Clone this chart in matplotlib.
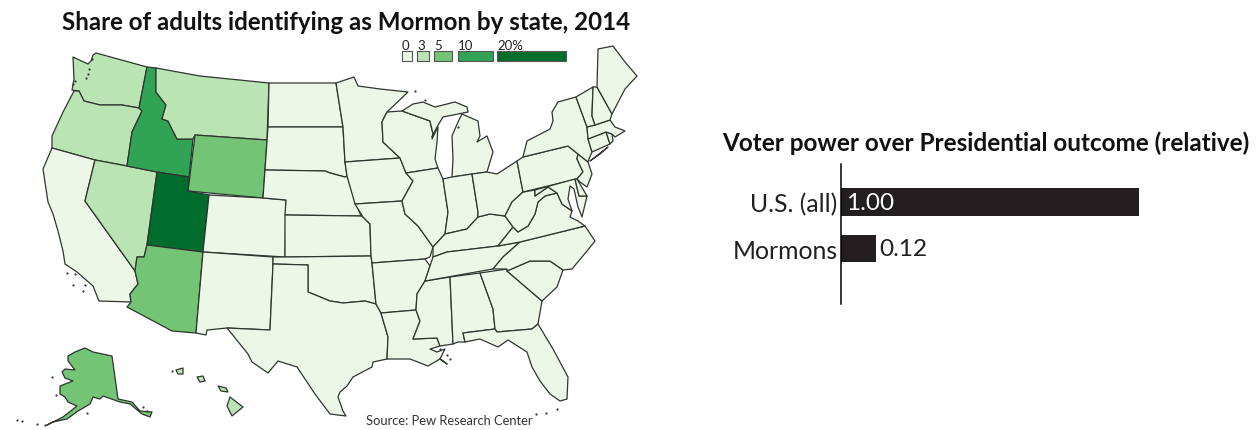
import matplotlib
matplotlib.use("Agg")
import matplotlib.pyplot as plt
from matplotlib.colors import BoundaryNorm, ListedColormap
from matplotlib.patches import Polygon, Rectangle

plt.rcParams['font.family'] = ['Lato', 'DejaVu Sans']

# bar chart data
groups = ["U.S. (all)", "Mormons"]
power = [1.00, 0.12]

# legend
bin_edges = [0, 3, 5, 10, 20, 100]
bin_labels = ["0", "3", "5", "10", "20%"]
bin_colors = ["#edf7e7", "#bae4b3", "#74c476", "#31a354", "#006d2c"]

# share of adults by state (lower edge of bin)
share = {
    "WA": 3, "OR": 3, "CA": 0, "NV": 3, "ID": 10, "MT": 3, "WY": 5, "UT": 20, "AZ": 5,
    "CO": 0, "NM": 0, "ND": 0, "SD": 0, "NE": 0, "KS": 0, "OK": 0, "TX": 0, "MN": 0,
    "IA": 0, "MO": 0, "AR": 0, "LA": 0, "WI": 0, "IL": 0, "MS": 0, "MI_U": 0, "MI_L": 0,
    "IN": 0, "KY": 0, "TN": 0, "AL": 0, "OH": 0, "GA": 0, "FL": 0, "SC": 0, "NC": 0,
    "VA": 0, "WV": 0, "PA": 0, "MD": 0, "DE": 0, "NJ": 0, "NY": 0, "LI": 0, "CT": 0,
    "RI": 0, "MA": 0, "VT": 0, "NH": 0, "ME": 0, "AK": 5, "HI_1": 3, "HI_2": 3,
    "HI_3": 3, "HI_4": 3,
}

# state outlines, in pixels
WA = [(73,58),(88,65),(91,62),(93,56),(96,54),(147,68),(139,109),(122,106),(100,106),(84,102),(79,92),(72,91),(74,80)]
OR = [(74,92),(79,92),(84,102),(100,106),(122,106),(139,109),(142,112),(132,133),(127,167),(95,161),(52,149),(52,137),(63,113)]
CA = [(52,149),(95,161),(85,202),(135,272),(138,285),(130,295),(131,303),(99,302),(93,287),(77,273),(65,265),(63,252),(58,232),(53,215),(48,203),(43,170)]
NV = [(95,161),(127,167),(157,173),(147,246),(144,258),(137,258),(135,272),(85,202)]
ID = [(147,68),(156,69),(156,93),(166,106),(162,120),(168,122),(177,140),(193,140),(189,178),(157,173),(127,167),(132,133),(142,112),(139,109)]
MT = [(156,69),(200,77),(269,84),(267,141),(195,136),(193,140),(177,140),(168,122),(162,120),(166,106),(156,93)]
WY = [(195,136),(267,141),(263,199),(188,192)]
UT = [(157,173),(189,178),(188,192),(209,196),(203,253),(147,246)]
AZ = [(147,246),(203,253),(196,334),(172,332),(127,308),(131,303),(130,295),(138,285),(135,272),(137,258),(144,258)]
CO = [(209,196),(263,199),(286,201),(285,258),(203,253)]
NM = [(203,253),(273,258),(273,265),(270,331),(227,329),(207,331),(206,336),(196,334)]
ND = [(269,84),(336,84),(343,128),(268,128)]
SD = [(268,128),(343,128),(345,163),(347,177),(345,178),(330,174),(325,172),(265,171)]
NE = [(265,171),(325,172),(330,174),(345,178),(347,177),(357,207),(361,217),(285,216),(286,201),(263,199)]
KS = [(285,216),(361,217),(363,218),(370,225),(371,257),(285,258)]
OK = [(273,258),(285,258),(371,257),(372,264),(376,305),(365,302),(343,304),(330,302),(308,293),(308,266),(273,265)]
TX = [(273,265),(308,266),(308,293),(330,302),(343,304),(365,302),(376,305),(381,314),(388,338),(387,360),(373,363),(372,368),(353,378),(347,387),(340,393),(338,398),(343,412),(346,417),(330,415),(315,395),(297,368),(278,362),(268,374),(252,363),(248,355),(227,329),(270,331)]
MN = [(336,84),(354,78),(358,87),(380,90),(408,93),(387,113),(382,123),(383,143),(400,159),(345,163),(343,128)]
IA = [(345,163),(400,159),(406,174),(413,182),(402,202),(355,205),(347,177)]
MO = [(355,205),(402,202),(405,215),(418,227),(433,248),(430,258),(425,260),(372,264),(371,257),(370,225),(363,218)]
AR = [(372,264),(425,260),(430,267),(425,282),(417,295),(416,311),(381,314),(376,305)]
LA = [(381,314),(416,311),(420,322),(413,340),(437,339),(440,347),(430,350),(437,353),(445,350),(440,360),(447,365),(440,360),(428,367),(410,360),(387,360),(388,338)]
WI = [(387,113),(402,112),(430,122),(433,135),(432,140),(438,128),(437,143),(435,160),(438,169),(406,174),(400,159),(383,143),(382,123)]
IL = [(406,174),(438,169),(443,180),(448,213),(445,235),(433,248),(418,227),(405,215),(402,202),(413,182)]
MS = [(425,282),(450,278),(453,345),(440,347),(437,339),(413,340),(420,322),(416,311),(417,295)]
MI_U = [(402,112),(413,105),(423,103),(435,108),(455,103),(467,108),(468,113),(458,115),(443,118),(437,128),(432,138),(433,135),(430,122)]
MI_L = [(462,115),(478,122),(480,137),(477,143),(487,137),(493,153),(487,173),(452,178),(453,160),(452,137),(458,123)]
IN = [(443,180),(452,178),(472,175),(478,213),(478,218),(467,230),(445,235),(448,213)]
KY = [(445,235),(467,230),(478,218),(490,215),(505,217),(513,228),(498,247),(447,253),(433,258),(433,248)]
TN = [(433,258),(447,253),(498,247),(520,243),(503,258),(493,270),(425,282),(430,267)]
AL = [(450,278),(480,274),(493,310),(495,330),(463,334),(465,343),(458,343),(453,345)]
OH = [(472,175),(487,173),(497,175),(517,162),(523,193),(512,203),(505,217),(490,215),(478,218),(478,213)]
GA = [(480,274),(507,270),(507,272),(542,302),(538,325),(532,330),(497,333),(495,330),(493,310)]
FL = [(463,334),(495,330),(497,333),(532,330),(538,325),(553,350),(568,378),(567,400),(560,402),(550,395),(540,382),(532,368),(527,353),(508,341),(498,348),(480,340),(465,343)]
SC = [(507,272),(530,262),(550,262),(563,271),(557,288),(542,302)]
NC = [(493,270),(503,258),(520,243),(585,227),(595,242),(587,252),(572,270),(563,271),(550,262),(530,262),(507,272),(507,270)]
VA = [(518,233),(528,227),(535,215),(538,203),(545,197),(557,194),(562,205),(572,212),(570,218),(578,222),(585,227),(520,243),(498,247),(513,228)]
WV = [(523,193),(535,191),(535,197),(548,188),(557,194),(545,197),(538,203),(535,215),(528,227),(518,233),(513,228),(505,217),(512,203)]
PA = [(517,162),(523,158),(568,147),(578,155),(577,160),(583,173),(577,180),(523,193)]
MD = [(535,191),(575,180),(579,197),(587,197),(582,218),(578,208),(574,190),(570,187),(568,200),(572,212),(562,205),(557,194),(548,188),(535,197)]
DE = [(575,180),(577,180),(587,197),(579,197)]
NJ = [(578,155),(588,163),(592,175),(587,188),(580,183),(577,180),(583,173),(577,160)]
NY = [(523,158),(527,142),(550,130),(553,122),(552,113),(558,103),(576,98),(587,128),(588,140),(592,153),(589,160),(588,163),(578,155),(568,147)]
LI = [(590,162),(608,148),(600,155)]
CT = [(588,140),(606,133),(610,145),(592,153)]
RI = [(606,133),(612,135),(613,142),(610,145)]
MA = [(587,128),(595,126),(610,121),(615,128),(625,132),(620,135),(615,138),(612,135),(606,133),(588,140)]
VT = [(576,98),(593,88),(592,117),(595,126),(587,128)]
NH = [(593,88),(597,88),(612,115),(610,121),(595,126),(592,117)]
ME = [(597,88),(598,50),(613,47),(625,63),(637,77),(625,90),(612,115)]
AK = [(85,349),(93,353),(112,357),(118,400),(132,403),(140,412),(152,413),(150,418),(142,415),(130,405),(120,403),(103,397),(100,400),(93,398),(90,405),(78,412),(67,420),(53,423),(47,426),(63,418),(77,407),(68,403),(65,398),(60,395),(60,387),(73,382),(65,379),(62,373),(65,370),(75,371),(68,362),(68,357),(75,353)]
HI_1 = [(230,398),(243,408),(232,417),(227,407)]
HI_2 = [(218,387),(226,389),(228,393),(221,392)]
HI_3 = [(197,378),(203,377),(205,382),(200,383)]
HI_4 = [(176,371),(183,369),(183,375),(178,375)]

outlines = {
    "WA": WA, "OR": OR, "CA": CA, "NV": NV, "ID": ID, "MT": MT, "WY": WY, "UT": UT, "AZ": AZ,
    "CO": CO, "NM": NM, "ND": ND, "SD": SD, "NE": NE, "KS": KS, "OK": OK, "TX": TX, "MN": MN,
    "IA": IA, "MO": MO, "AR": AR, "LA": LA, "WI": WI, "IL": IL, "MS": MS, "MI_U": MI_U,
    "MI_L": MI_L, "IN": IN, "KY": KY, "TN": TN, "AL": AL, "OH": OH, "GA": GA, "FL": FL,
    "SC": SC, "NC": NC, "VA": VA, "WV": WV, "PA": PA, "MD": MD, "DE": DE, "NJ": NJ, "NY": NY,
    "LI": LI, "CT": CT, "RI": RI, "MA": MA, "VT": VT, "NH": NH, "ME": ME, "AK": AK,
    "HI_1": HI_1, "HI_2": HI_2, "HI_3": HI_3, "HI_4": HI_4,
}

# small islands and inlets, too small to fill
specks_x = [89, 88, 86, 92, 75, 73, 67, 75, 73, 85, 83, 52, 56, 87, 17, 22, 37, 45, 143, 147, 415, 425, 557, 546, 536, 172, 458, 440, 447, 450]
specks_y = [70, 75, 79, 60, 82, 85, 274, 275, 286, 286, 292, 378, 396, 414, 421, 422, 425, 426, 408, 412, 92, 101, 410, 414, 415, 372, 128, 350, 356, 360]

cmap = ListedColormap(bin_colors)
norm = BoundaryNorm(bin_edges, cmap.N)

fig = plt.figure(figsize=(12.6, 4.31), dpi=100)

# map and titles live on one axes that runs in picture pixels
ax = fig.add_axes([0, 0, 1, 1])
ax.set_xlim(0, 1260)
ax.set_ylim(431, 0)
ax.axis("off")

for name, pts in outlines.items():
    ax.add_patch(Polygon(pts, closed=True, facecolor=cmap(norm(share[name])),
                         edgecolor="#2f352f", linewidth=0.9, joinstyle="round"))
ax.scatter(specks_x, specks_y, s=2.5, color="#333333", linewidths=0)

# legend swatches
legend_x = [402, 417, 434, 458, 497]
legend_w = [10, 12, 18, 35, 69]
for i in range(len(bin_labels)):
    ax.add_patch(Rectangle((legend_x[i], 52), legend_w[i], 10, facecolor=bin_colors[i],
                           edgecolor="#555555", linewidth=0.8))
    ax.text(legend_x[i], 51.5, bin_labels[i], fontsize=9.5, color="#222222", ha="left", va="bottom")

ax.text(62, 22, "Share of adults identifying as Mormon by state, 2014", fontsize=17.4,
        fontweight="bold", color="#111111", va="center", ha="left")
ax.text(722, 143, "Voter power over Presidential outcome (relative)", fontsize=17.5,
        fontweight="bold", color="#111111", va="center", ha="left")
ax.text(366, 421, "Source: Pew Research Center", fontsize=9.3, color="#333333", va="center", ha="left")

# bar chart
bx = fig.add_axes([840.5 / 1260, 1 - 305 / 431, (1139 - 840.5) / 1260, 140 / 431])
ypos = range(len(groups))
bx.barh(ypos, power, height=0.587, color="#231f20")
bx.set_xlim(0, 1)
bx.set_ylim(2.217, -0.826)
bx.set_yticks(list(ypos))
bx.set_yticklabels(groups, fontsize=17.8, color="#231f20")
bx.tick_params(axis="y", length=0, pad=2)
bx.set_xticks([])
for s in ["top", "right", "bottom"]:
    bx.spines[s].set_visible(False)
bx.spines["left"].set_linewidth(1.1)
bx.patch.set_alpha(0)
bx.text(0.02, 0, "%.2f" % power[0], color="white", fontsize=17.5, va="center", ha="left")
bx.text(power[1] + 0.01, 1, "%.2f" % power[1], color="#231f20", fontsize=17.5, va="center", ha="left")

fig.savefig("out.png", dpi=100)
